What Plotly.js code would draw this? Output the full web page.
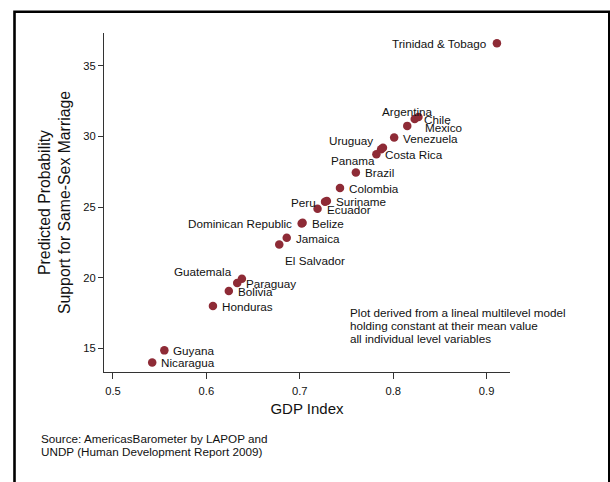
<!DOCTYPE html>
<html>
<head>
<meta charset="utf-8">
<script src="https://cdn.plot.ly/plotly-3.0.1.min.js"></script>
<style>
  html, body { margin: 0; padding: 0; background: #ffffff; }
  #chart { width: 610px; height: 482px; }
</style>
</head>
<body>
<div id="chart"></div>
<script>
// ---- Data ----
const countries = ["Trinidad & Tobago", "Argentina", "Chile", "Mexico", "Venezuela", "Uruguay", "Panama",
  "Costa Rica", "Brazil", "Colombia", "Peru", "Suriname", "Ecuador", "Dominican Republic", "Belize",
  "Jamaica", "El Salvador", "Guatemala", "Paraguay", "Bolivia", "Honduras", "Guyana", "Nicaragua"];
const gdpIndex = [0.911, 0.815, 0.823, 0.827, 0.801, 0.789, 0.787,
  0.782, 0.760, 0.743, 0.727, 0.729, 0.719, 0.702, 0.703,
  0.686, 0.678, 0.638, 0.633, 0.624, 0.607, 0.555, 0.542];
const support = [36.58, 30.74, 31.23, 31.37, 29.91, 29.20, 29.09,
  28.74, 27.45, 26.34, 25.38, 25.42, 24.87, 23.84, 23.88,
  22.82, 22.35, 19.93, 19.62, 19.06, 18.00, 14.86, 14.01];
const xTicks = [0.5, 0.6, 0.7, 0.8, 0.9];
const xTickLabels = ["0.5", "0.6", "0.7", "0.8", "0.9"];
const yTicks = [15, 20, 25, 30, 35];
const yTickLabels = ["15", "20", "25", "30", "35"];
const xTitle = "GDP Index";
const yTitleLines = ["Predicted Probability", "Support for Same-Sex Marriage"];
const noteLines = ["Plot derived from a lineal multilevel model",
  "holding constant at their mean value", "all individual level variables"];
const sourceLines = ["Source: AmericasBarometer by LAPOP and", "UNDP (Human Development Report 2009)"];

// ---- Style: marker-label clock positions (Stata style) ----
const labelClock = {
  "Trinidad & Tobago": 9, "Argentina": 12, "Chile": 3, "Mexico": 4, "Venezuela": 3,
  "Uruguay": 10, "Panama": 8, "Costa Rica": 3, "Brazil": 3, "Colombia": 3,
  "Peru": 9, "Suriname": 3, "Ecuador": 3, "Dominican Republic": 9, "Belize": 3,
  "Jamaica": 3, "El Salvador": 5, "Guatemala": 10, "Paraguay": 3, "Bolivia": 3,
  "Honduras": 3, "Guyana": 3, "Nicaragua": 3
};
const clockStyle = {
  3:  {xanchor: "left",   xshift: 9,   yshift: -0.5},
  9:  {xanchor: "right",  xshift: -9.5, yshift: -0.5},
  12: {xanchor: "center", xshift: 0,   yshift: 14},
  4:  {xanchor: "left",   xshift: 7,   yshift: -11},
  5:  {xanchor: "left",   xshift: 5.5, yshift: -16},
  10: {xanchor: "right",  xshift: -9.5, yshift: 7.5},
  8:  {xanchor: "right",  xshift: -6,  yshift: -11.5}
};

const W = 610, H = 482;
const M = {l: 104, r: 100, t: 33, b: 110};
const pw = W - M.l - M.r, ph = H - M.t - M.b;
const px2x = p => (p - M.l) / pw;
const py2y = p => (H - M.b - p) / ph;

const FONT = "Liberation Sans, Arial, Helvetica, sans-serif";
const TXT = "#111111";
const AX = "#333333";
const DOT = "#8e2b36";

const trace = {
  type: "scatter", mode: "markers",
  x: gdpIndex, y: support, text: countries,
  marker: {color: DOT, size: 8.5, line: {width: 0}},
  hoverinfo: "text+x+y", showlegend: false, cliponaxis: false
};

const annotations = [];
countries.forEach((c, i) => {
  const s = clockStyle[labelClock[c]];
  annotations.push({
    xref: "x", yref: "y", x: gdpIndex[i], y: support[i], text: c, showarrow: false,
    xanchor: s.xanchor, yanchor: "middle", xshift: s.xshift, yshift: s.yshift,
    font: {family: FONT, size: 11.7, color: TXT}, borderpad: 0, borderwidth: 0
  });
});
noteLines.forEach((t, i) => {
  annotations.push({
    xref: "paper", yref: "paper", x: px2x(349), y: py2y(312.7 + i * 13.1), text: t, showarrow: false,
    xanchor: "left", yanchor: "middle", font: {family: FONT, size: 11.7, color: TXT}, borderpad: 0
  });
});
sourceLines.forEach((t, i) => {
  annotations.push({
    xref: "paper", yref: "paper", x: px2x(39.5), y: py2y(438.3 + i * 13.4), text: t, showarrow: false,
    xanchor: "left", yanchor: "middle", font: {family: FONT, size: 11.7, color: TXT}, borderpad: 0
  });
});

const shapes = [{
  type: "rect", xref: "paper", yref: "paper", layer: "above",
  x0: px2x(14.5), x1: px2x(609.3), y0: py2y(11.8), y1: py2y(520),
  line: {color: "#000000", width: 2.6}, fillcolor: "rgba(0,0,0,0)"
}];

const layout = {
  width: W, height: H,
  margin: {l: M.l, r: M.r, t: M.t, b: M.b, pad: 0},
  paper_bgcolor: "#ffffff", plot_bgcolor: "#ffffff",
  font: {family: FONT, color: TXT},
  xaxis: {
    range: [0.4904, 0.925], tickvals: xTicks, ticktext: xTickLabels,
    ticks: "outside", ticklen: 6, tickwidth: 1, tickcolor: AX, ticklabelstandoff: 3,
    showline: true, linecolor: AX, linewidth: 1, showgrid: false, zeroline: false,
    tickfont: {family: FONT, size: 11.2, color: TXT},
    title: {text: xTitle, font: {family: FONT, size: 15, color: TXT}, standoff: 7}
  },
  yaxis: {
    range: [13.33, 37.31], tickvals: yTicks, ticktext: yTickLabels,
    ticks: "outside", ticklen: 5, tickwidth: 1, tickcolor: AX,
    showline: true, linecolor: AX, linewidth: 1, showgrid: false, zeroline: false,
    tickfont: {family: FONT, size: 11.2, color: TXT},
    title: {text: yTitleLines.join("<br>"), font: {family: FONT, size: 15.8, color: TXT}, standoff: 8}
  },
  annotations: annotations,
  shapes: shapes
};

Plotly.newPlot("chart", [trace], layout, {displayModeBar: false, staticPlot: true});
</script>
</body>
</html>
